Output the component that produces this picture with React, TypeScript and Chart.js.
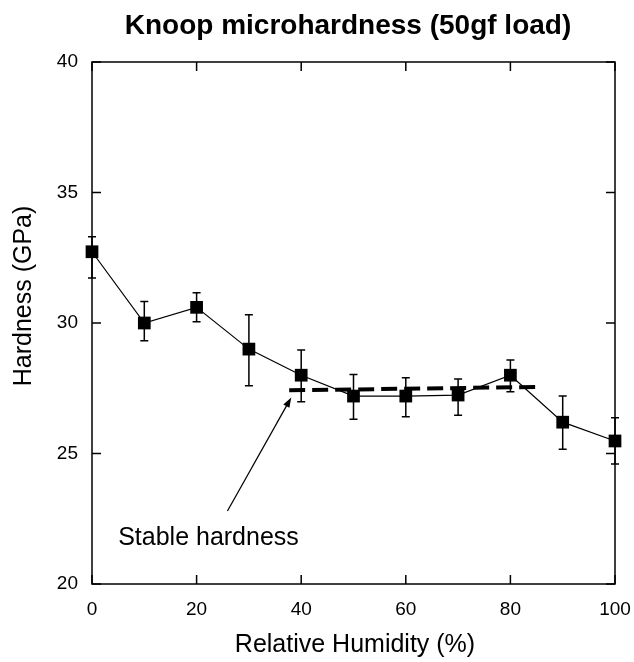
import React, { useEffect, useRef } from 'react';
import { Chart, registerables } from 'chart.js';

Chart.register(...registerables);

// ---- data ----
const humidity = [0, 10, 20, 30, 40, 50, 60, 70, 80, 90, 100];
const hardness = [32.73, 30.0, 30.6, 29.0, 28.0, 27.2, 27.2, 27.24, 28.0, 26.2, 25.48];
const errUpper = [33.3, 30.82, 31.16, 30.32, 28.97, 28.03, 27.9, 27.85, 28.58, 27.2, 26.37];
const errLower = [31.72, 29.32, 30.05, 27.6, 26.98, 26.31, 26.41, 26.47, 27.37, 25.16, 24.6];
const stableX = [37.7, 85.2];
const stableY = [27.42, 27.55];
const xTicks = [0, 20, 40, 60, 80, 100];
const yTicks = [20, 25, 30, 35, 40];
const arrowFrom = [25.9, 22.8];
const arrowTo = [38.1, 27.15];
const labelPos = [5.0, 21.5];
const titleText = 'Knoop microhardness (50gf load)';
const xTitle = 'Relative Humidity (%)';
const yTitle = 'Hardness (GPa)';
const annotationText = 'Stable hardness';

const FONT = '"Liberation Sans", Arial, sans-serif';

const decorPlugin = {
  id: 'decor',
  beforeDatasetsDraw(chart: any) {
    const { ctx, scales } = chart;
    const xs = scales.x, ys = scales.y;
    ctx.save();
    ctx.strokeStyle = '#000';
    ctx.lineWidth = 1.5;
    for (let i = 0; i < humidity.length; i++) {
      const px = xs.getPixelForValue(humidity[i]);
      const pu = ys.getPixelForValue(errUpper[i]);
      const pl = ys.getPixelForValue(errLower[i]);
      ctx.beginPath();
      ctx.moveTo(px, pu);
      ctx.lineTo(px, pl);
      ctx.moveTo(px - 4, pu);
      ctx.lineTo(px + 4, pu);
      ctx.moveTo(px - 4, pl);
      ctx.lineTo(px + 4, pl);
      ctx.stroke();
    }
    ctx.restore();
  },
  afterDraw(chart: any) {
    const { ctx, scales, chartArea } = chart;
    const xs = scales.x, ys = scales.y;
    const { left, right, top, bottom } = chartArea;
    ctx.save();
    ctx.strokeStyle = '#000';
    ctx.lineWidth = 1.5;
    ctx.strokeRect(left, top, right - left, bottom - top);
    const tl = 9;
    ctx.beginPath();
    xTicks.forEach((v) => {
      const px = xs.getPixelForValue(v);
      ctx.moveTo(px, bottom);
      ctx.lineTo(px, bottom - tl);
      ctx.moveTo(px, top);
      ctx.lineTo(px, top + tl);
    });
    yTicks.forEach((v) => {
      const py = ys.getPixelForValue(v);
      ctx.moveTo(left, py);
      ctx.lineTo(left + tl, py);
      ctx.moveTo(right, py);
      ctx.lineTo(right - tl, py);
    });
    ctx.stroke();

    // arrow
    const ax0 = xs.getPixelForValue(arrowFrom[0]);
    const ay0 = ys.getPixelForValue(arrowFrom[1]);
    const ax1 = xs.getPixelForValue(arrowTo[0]);
    const ay1 = ys.getPixelForValue(arrowTo[1]);
    const ang = Math.atan2(ay1 - ay0, ax1 - ax0);
    ctx.lineWidth = 1.2;
    ctx.beginPath();
    ctx.moveTo(ax0, ay0);
    ctx.lineTo(ax1 - 6 * Math.cos(ang), ay1 - 6 * Math.sin(ang));
    ctx.stroke();
    ctx.fillStyle = '#000';
    ctx.beginPath();
    ctx.moveTo(ax1, ay1);
    ctx.lineTo(ax1 - 10 * Math.cos(ang) + 3.5 * Math.sin(ang), ay1 - 10 * Math.sin(ang) - 3.5 * Math.cos(ang));
    ctx.lineTo(ax1 - 10 * Math.cos(ang) - 3.5 * Math.sin(ang), ay1 - 10 * Math.sin(ang) + 3.5 * Math.cos(ang));
    ctx.closePath();
    ctx.fill();

    // annotation text
    ctx.font = `25px ${FONT}`;
    ctx.textAlign = 'left';
    ctx.textBaseline = 'alphabetic';
    ctx.fillText(annotationText, xs.getPixelForValue(labelPos[0]), ys.getPixelForValue(labelPos[1]));

    // chart title
    ctx.font = `bold 28px ${FONT}`;
    ctx.textAlign = 'center';
    ctx.fillText(titleText, 348, 34);

    // x title
    ctx.font = `25px ${FONT}`;
    ctx.fillText(xTitle, 355, 652);

    // y title
    ctx.translate(31, 296);
    ctx.rotate(-Math.PI / 2);
    ctx.fillText(yTitle, 0, 0);
    ctx.restore();
  },
};

export default function App() {
  const ref = useRef<HTMLCanvasElement | null>(null);
  useEffect(() => {
    document.body.style.margin = '0';
    const canvas = ref.current;
    if (!canvas) return;
    const chart = new Chart(canvas, {
      type: 'scatter',
      data: {
        datasets: [
          {
            label: 'Hardness',
            data: humidity.map((x, i) => ({ x, y: hardness[i] })),
            showLine: true,
            borderColor: '#000',
            backgroundColor: '#000',
            borderWidth: 1.2,
            pointStyle: 'rect',
            pointRadius: 9,
            pointHoverRadius: 9,
            pointBorderWidth: 0,
            clip: false,
            order: 0,
          },
          {
            label: 'Stable',
            data: stableX.map((x, i) => ({ x, y: stableY[i] })),
            showLine: true,
            borderColor: '#000',
            borderWidth: 4,
            borderDash: [16, 7],
            pointRadius: 0,
            clip: false,
            order: 1,
          },
        ],
      },
      options: {
        responsive: false,
        animation: false,
        layout: { padding: { top: 62, right: 19, left: 0, bottom: 0 } },
        plugins: {
          legend: { display: false },
          title: { display: false },
          tooltip: { enabled: false },
        },
        scales: {
          x: {
            type: 'linear',
            min: 0,
            max: 100,
            afterFit: (s: any) => { s.height = 78; s.paddingLeft = 0; s.paddingRight = 0; },
            afterBuildTicks: (s: any) => { s.ticks = xTicks.map((v) => ({ value: v })); },
            grid: { display: false, drawTicks: false },
            border: { display: false },
            ticks: { color: '#000', padding: 14, font: { size: 19, family: FONT }, maxRotation: 0 },
          },
          y: {
            type: 'linear',
            min: 20,
            max: 40,
            afterFit: (s: any) => { s.width = 92; s.paddingTop = 0; s.paddingBottom = 0; },
            afterBuildTicks: (s: any) => { s.ticks = yTicks.map((v) => ({ value: v })); },
            grid: { display: false, drawTicks: false },
            border: { display: false },
            ticks: { color: '#000', padding: 14, font: { size: 19, family: FONT } },
          },
        },
      },
      plugins: [decorPlugin],
    });
    return () => chart.destroy();
  }, []);
  return (
    <div style={{ position: 'fixed', left: 0, top: 0, width: 634, height: 662, background: '#fff' }}>
      <canvas ref={ref} width={634} height={662} />
    </div>
  );
}
